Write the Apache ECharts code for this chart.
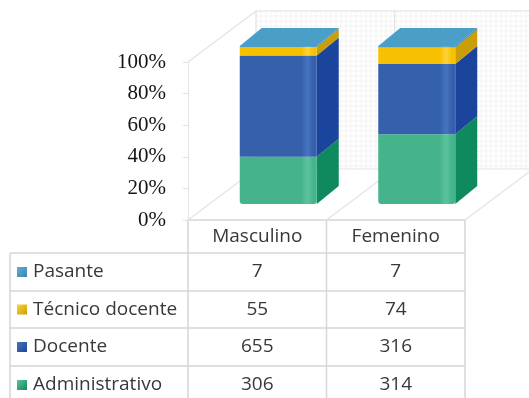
<!DOCTYPE html>
<html>
<head>
<meta charset="utf-8">
<script src="https://cdn.jsdelivr.net/npm/echarts@6/dist/echarts.min.js"></script>
<style>
  html, body { margin: 0; padding: 0; background: #ffffff; }
  #chart { width: 529px; height: 398px; }
</style>
</head>
<body>
<div id="chart"></div>
<script>
// Personal por sexo y tipo de cargo (columnas apiladas al 100 %)
const categories = ['Masculino', 'Femenino'];
const layerNames = ['Administrativo', 'Docente', 'Técnico docente', 'Pasante'];
const administrativo = [306, 314];
const docente = [655, 316];
const tecnicoDocente = [55, 74];
const pasante = [7, 7];
const yTicks = [0, 20, 40, 60, 80, 100];

const layerValues = [administrativo, docente, tecnicoDocente, pasante];

// front / side colours of each layer
const palette = [
  { front: '#45b48b', light: '#5cc39d', side: '#0e8a5e' },
  { front: '#3560ac', light: '#4674bd', side: '#1b449c' },
  { front: '#f7c000', light: '#ffd23a', side: '#c99e06' },
  { front: '#4a9fc9', light: '#5cb0d6', side: '#3a87b0' }
];

// plot frame and pseudo-3D offsets
const GRID = { left: 188, top: 62, width: 277, height: 158 };
const WALL = { dx: 68, dy: -51 };
const BAR_SHIFT = { dx: 21, dy: -16 };
const BAR_DEPTH = { dx: 22, dy: -18 };
const BAR_WIDTH = 77;

// percentage shares per category, stacked bottom to top
const totals = categories.map((_, c) => layerValues.reduce((s, arr) => s + arr[c], 0));
const stacked = layerValues.map(() => []);
categories.forEach((_, c) => {
  let acc = 0;
  layerValues.forEach((arr, i) => {
    const lo = acc / totals[c] * 100;
    acc += arr[c];
    const hi = acc / totals[c] * 100;
    stacked[i].push([c, lo, hi]);
  });
});

function barRenderer(layerIdx) {
  const col = palette[layerIdx];
  const isTop = layerIdx === layerNames.length - 1;
  return function (params, api) {
    const c = api.value(0), lo = api.value(1), hi = api.value(2);
    const pLo = api.coord([c, lo]);
    const pHi = api.coord([c, hi]);
    const x0 = pLo[0] + BAR_SHIFT.dx - BAR_WIDTH / 2;
    const x1 = x0 + BAR_WIDTH;
    const yb = pLo[1] + BAR_SHIFT.dy;
    const yt = pHi[1] + BAR_SHIFT.dy;
    const dx = BAR_DEPTH.dx, dy = BAR_DEPTH.dy;
    const children = [];
    children.push({
      type: 'polygon',
      shape: { points: [[x1, yb], [x1 + dx, yb + dy], [x1 + dx, yt + dy], [x1, yt]] },
      style: { fill: col.side }
    });
    children.push({
      type: 'rect',
      shape: { x: x0, y: yt, width: BAR_WIDTH, height: Math.max(yb - yt, 0.8),
               r: layerIdx === 0 ? [0, 0, 3, 3] : 0 },
      style: {
        fill: new echarts.graphic.LinearGradient(0, 0, 1, 0, [
          { offset: 0, color: col.front },
          { offset: 0.8, color: col.front },
          { offset: 0.88, color: col.light },
          { offset: 0.96, color: col.front },
          { offset: 1, color: col.front }
        ])
      }
    });
    if (isTop) {
      children.push({
        type: 'polygon',
        shape: { points: [[x0, yt], [x0 + dx, yt + dy], [x1 + dx, yt + dy], [x1, yt]] },
        style: { fill: col.front }
      });
    }
    return { type: 'group', children: children };
  };
}

function wallRenderer(params, api) {
  const catW = api.size([1, 0])[0];
  const left = api.coord([0, 0])[0] - catW / 2;
  const right = api.coord([categories.length - 1, 0])[0] + catW / 2;
  const y0 = api.coord([0, 0])[1];
  const yMax = api.coord([0, yTicks[yTicks.length - 1]])[1];
  const bx = left + WALL.dx, byTop = yMax + WALL.dy, byBot = y0 + WALL.dy;
  const bRight = right + WALL.dx;
  const fine = { stroke: '#f3f3f3', lineWidth: 1 };
  const main = { stroke: '#e3e3e3', lineWidth: 1.2 };
  const kids = [];
  // fine graph-paper texture on the back wall
  for (let y = byTop; y <= byBot; y += 5) {
    kids.push({ type: 'line', shape: { x1: bx, y1: y, x2: bRight, y2: y }, style: fine });
  }
  for (let x = bx; x <= bRight; x += 5) {
    kids.push({ type: 'line', shape: { x1: x, y1: byTop, x2: x, y2: byBot }, style: fine });
  }
  // back wall frame
  kids.push({ type: 'line', shape: { x1: bx, y1: byTop, x2: bRight, y2: byTop }, style: main });
  kids.push({ type: 'line', shape: { x1: bx, y1: byTop, x2: bx, y2: byBot }, style: main });
  kids.push({ type: 'line', shape: { x1: bx, y1: byBot, x2: bRight, y2: byBot }, style: main });
  for (let c = 1; c < categories.length; c++) {
    const xc = left + c * catW + WALL.dx;
    kids.push({ type: 'line', shape: { x1: xc, y1: byTop, x2: xc, y2: byBot }, style: main });
  }
  // left wall top edge
  kids.push({ type: 'line', shape: { x1: left, y1: yMax, x2: bx, y2: byTop }, style: main });
  // floor depth edges at every category boundary
  for (let c = 0; c <= categories.length; c++) {
    const xf = left + c * catW;
    kids.push({ type: 'line', shape: { x1: xf, y1: y0, x2: xf + WALL.dx, y2: y0 + WALL.dy }, style: main });
  }
  return { type: 'group', children: kids };
}

const chart = echarts.init(document.getElementById('chart'), null, { renderer: 'canvas' });

const series = [{
  type: 'custom',
  name: 'walls',
  silent: true,
  z: 1,
  renderItem: wallRenderer,
  data: [[0, 0]]
}];
layerNames.forEach((name, i) => {
  series.push({
    type: 'custom',
    name: name,
    z: 5 + i,
    renderItem: barRenderer(i),
    encode: { x: 0, y: [1, 2] },
    data: stacked[i]
  });
});

// data table under the plot
const lineCol = '#d6d6d6';
const textCol = '#383838';
const tableFont = '19px "Open Sans", sans-serif';
const tableLeft = 10;
const colEdges = categories.map((_, i) => GRID.left + i * GRID.width / categories.length)
  .concat([GRID.left + GRID.width]);
const headerTop = GRID.top + GRID.height;
const rowEdges = [253, 291, 328, 366, 404];
const tableRows = layerNames.slice().reverse();
const graphics = [];
const hLine = (x1, x2, y) => graphics.push({ type: 'line', shape: { x1, y1: y, x2, y2: y },
  style: { stroke: lineCol, lineWidth: 1.5 }, z: 10 });
const vLine = (x, y1, y2) => graphics.push({ type: 'line', shape: { x1: x, y1, x2: x, y2 },
  style: { stroke: lineCol, lineWidth: 1.5 }, z: 10 });
colEdges.forEach(x => vLine(x, headerTop, rowEdges[rowEdges.length - 1]));
vLine(tableLeft, rowEdges[0], rowEdges[rowEdges.length - 1]);
rowEdges.forEach(y => hLine(tableLeft, colEdges[colEdges.length - 1], y));

tableRows.forEach((name, r) => {
  const layerIdx = layerNames.indexOf(name);
  const cy = (rowEdges[r] + rowEdges[r + 1]) / 2;
  const col = palette[layerIdx];
  graphics.push({
    type: 'rect', shape: { x: 17, y: cy - 5, width: 10, height: 10 },
    style: {
      fill: new echarts.graphic.LinearGradient(0, 0, 1, 1, [
        { offset: 0, color: col.light }, { offset: 1, color: col.side }
      ])
    }, z: 11
  });
  graphics.push({
    type: 'text', x: 33, y: cy,
    style: { text: name, fill: textCol, font: tableFont,
             textVerticalAlign: 'middle', textAlign: 'left' }, z: 11
  });
  categories.forEach((_, c) => {
    graphics.push({
      type: 'text', x: (colEdges[c] + colEdges[c + 1]) / 2, y: cy,
      style: { text: String(layerValues[layerIdx][c]), fill: textCol, font: tableFont,
               textVerticalAlign: 'middle', textAlign: 'center' }, z: 11
    });
  });
});

chart.setOption({
  animation: false,
  backgroundColor: '#ffffff',
  grid: { left: GRID.left, top: GRID.top, width: GRID.width, height: GRID.height, containLabel: false },
  xAxis: {
    type: 'category',
    data: categories,
    axisLine: { show: true, lineStyle: { color: lineCol, width: 1.5 } },
    axisTick: { show: false },
    axisLabel: { color: textCol, fontFamily: 'Open Sans', fontSize: 19, margin: 7 }
  },
  yAxis: {
    type: 'value',
    min: 0,
    max: 100,
    interval: 20,
    axisLine: { show: true, lineStyle: { color: '#e3e3e3', width: 1 } },
    axisTick: { show: true, length: 5, lineStyle: { color: '#e3e3e3' } },
    splitLine: { show: false },
    axisLabel: {
      formatter: '{value}%',
      color: '#141414',
      fontFamily: 'Liberation Serif',
      fontSize: 21,
      margin: 22,
      padding: [5, 0, 0, 0]
    }
  },
  series: series,
  graphic: graphics
});
</script>
</body>
</html>
